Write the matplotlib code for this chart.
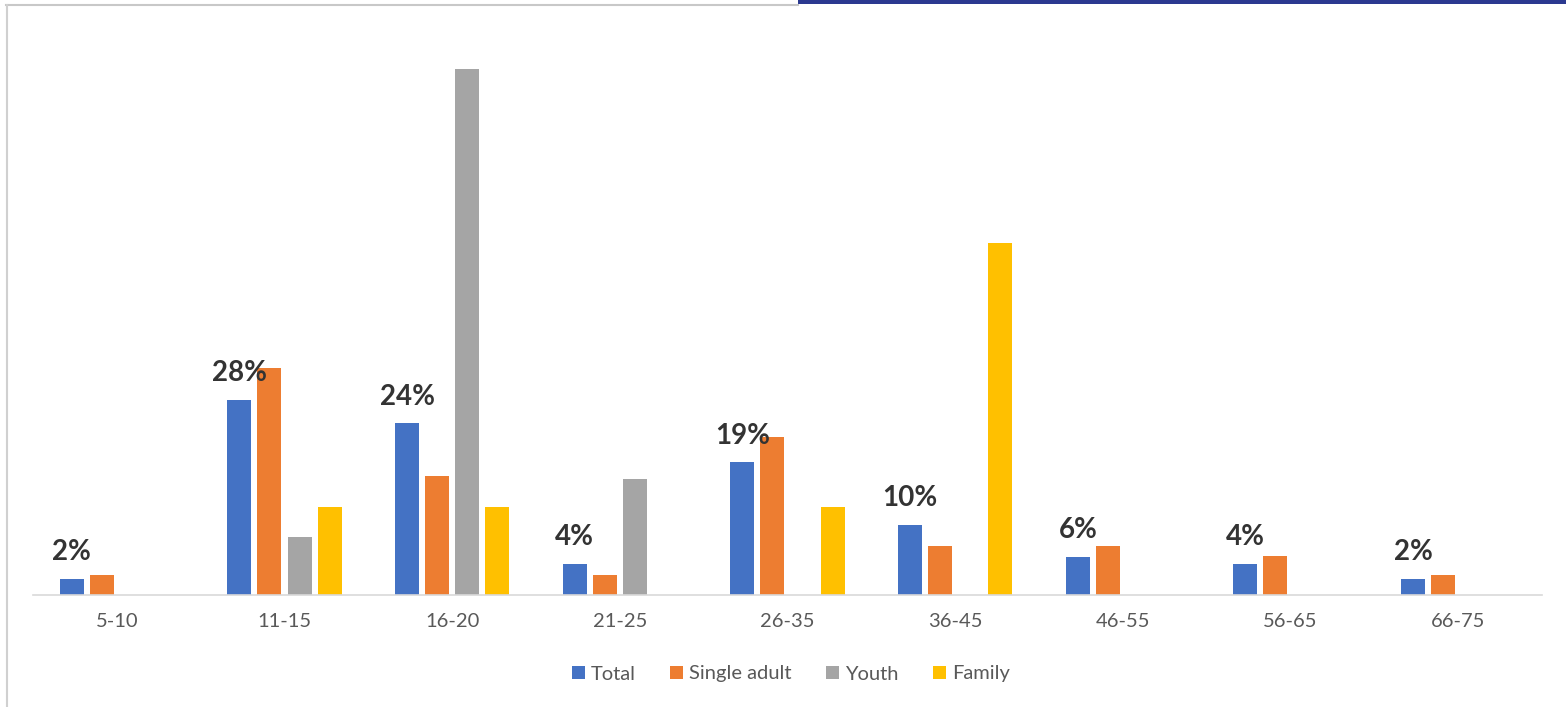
import numpy as np
import matplotlib.pyplot as plt
from matplotlib.lines import Line2D
from matplotlib.patches import Rectangle

plt.rcParams['font.family'] = ['Lato', 'DejaVu Sans']

categories = ["5-10", "11-15", "16-20", "21-25", "26-35", "36-45", "46-55", "56-65", "66-75"]
total = [2.3, 28.0, 24.6, 4.4, 19.0, 10.0, 5.5, 4.4, 2.3]
single_adult = [2.9, 32.6, 17.0, 2.9, 22.7, 7.0, 7.0, 5.6, 2.9]
youth = [np.nan, 8.3, 75.4, 16.7, np.nan, np.nan, np.nan, np.nan, np.nan]
family = [np.nan, 12.6, 12.6, np.nan, 12.6, 50.4, np.nan, np.nan, np.nan]
total_labels = ["2%", "28%", "24%", "4%", "19%", "10%", "6%", "4%", "2%"]

series = [("Total", total, "#4472C4"),
          ("Single adult", single_adult, "#ED7D31"),
          ("Youth", youth, "#A5A5A5"),
          ("Family", family, "#FFC000")]

W, H = 1566, 707
fig = plt.figure(figsize=(W / 100, H / 100), dpi=100)
ax_left, ax_right, base_y, top_y = 33, 1542, 595, 37
ax = fig.add_axes([ax_left / W, (H - base_y) / H, (ax_right - ax_left) / W, (base_y - top_y) / H])

x = np.arange(len(categories))
step = 30 / 167.6
width = 24 / 167.6
for i, (name, vals, color) in enumerate(series):
    ax.bar(x + (i - 1.5) * step, vals, width, color=color, label=name)

for xi, v, lab in zip(x, total, total_labels):
    ax.annotate(lab, (xi - 1.5 * step, v), xytext=(0, 10), textcoords='offset points',
                ha='center', va='bottom', fontsize=20, fontweight='bold', color='#333333')

ax.set_xlim(-0.5, len(categories) - 0.5)
ax.set_ylim(0, 80)
ax.set_xticks(x)
ax.set_xticklabels(categories, fontsize=14.5, color='#595959')
ax.tick_params(axis='x', length=0, pad=13)
ax.set_yticks([])
for s in ['top', 'right', 'left']:
    ax.spines[s].set_visible(False)
ax.spines['bottom'].set_color('#d9d9d9')
ax.spines['bottom'].set_linewidth(1.2)

fig.legend(loc='center', bbox_to_anchor=(791 / W, (H - 674) / H), ncol=4, frameon=False,
           fontsize=14.5, labelcolor='#595959', handlelength=0.65, handleheight=0.65,
           handletextpad=0.3, columnspacing=1.7)

# page frame bits
fig.add_artist(Line2D([6 / W, 798 / W], [(H - 4.5) / H] * 2, color='#c8c8c8', lw=1.5))
fig.add_artist(Line2D([6.5 / W] * 2, [0, (H - 4.5) / H], color='#d0d0d0', lw=1.5))
fig.add_artist(Rectangle((798 / W, (H - 4) / H), (W - 798) / W, 4 / H, color='#2B3990', lw=0))

fig.savefig('out.png', dpi=100)
